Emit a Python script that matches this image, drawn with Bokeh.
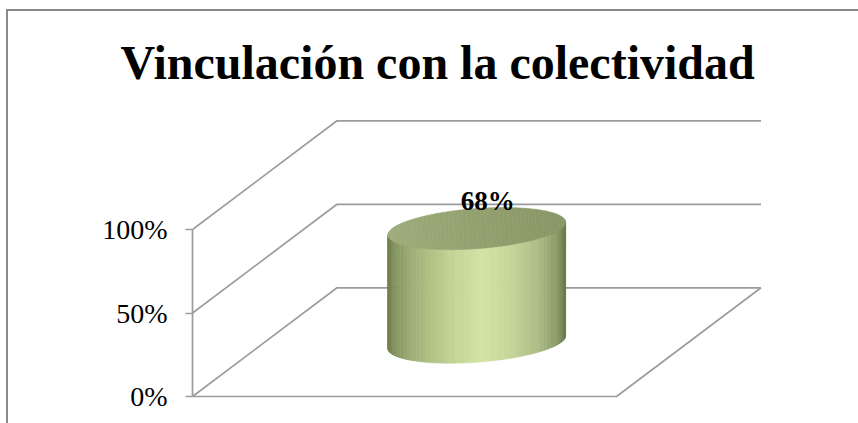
import numpy as np
from bokeh.plotting import figure
from bokeh.models import Range1d, LinearAxis, FixedTicker, NumeralTickFormatter
from bokeh.core.properties import value
from bokeh.embed import file_html
from bokeh.resources import INLINE

# ---------------- data ----------------
TITLE = "Vinculación con la colectividad"
CATEGORIES = ["Vinculación con la colectividad"]
VALUES = [0.68]
Y_TICKS = [0.0, 0.5, 1.0]

# ---------------- layout / style ----------------
W, H = 850, 412
LEFT, TOP = 184, 89
FRAME_W, FRAME_H = W - LEFT, H - TOP
SX = 424.0          # px per category (front plane)
SY = 167.0          # px per 100 %
BELOW_ZERO = 27.0   # px of frame below 0 %
DEPTH_PX = (144.5, 108.7)
DX, DY = DEPTH_PX[0] / SX, DEPTH_PX[1] / SY
BAR_W = 0.42        # cylinder width, fraction of a category
ELL_B = 20.0        # half height of the cylinder ends, px
ELL_ANGLE = np.deg2rad(4.3)
GRID = "#9c9c9c"

y0 = -BELOW_ZERO / SY
p = figure(width=W, height=H,
           x_range=Range1d(0, FRAME_W / SX), y_range=Range1d(y0, y0 + FRAME_H / SY),
           output_backend="svg", toolbar_location=None,
           x_axis_location=None, y_axis_location=None,
           min_border_left=LEFT, min_border_top=TOP, min_border_right=0, min_border_bottom=0,
           margin=(11, 0, 0, 8), styles={"outline": "2px solid #8a8a8a"})
p.grid.visible = False
p.outline_line_color = None
p.background_fill_color = "white"
p.border_fill_color = "white"

p.title.text = TITLE
p.title.text_font = "Liberation Serif"
p.title.text_font_style = "bold"
p.title.text_font_size = "48px"
p.title.text_color = "black"
p.title.align = "left"
p.title.offset = -72
p.title.standoff = 23

ax = LinearAxis(ticker=FixedTicker(ticks=Y_TICKS), formatter=NumeralTickFormatter(format="0%"),
                bounds=(0, 1), axis_line_color=GRID, axis_line_width=1.7,
                major_tick_line_color=GRID, major_tick_line_width=1.7,
                major_tick_in=0, major_tick_out=7, minor_tick_line_color=None,
                major_label_standoff=18, major_label_text_font="Liberation Serif",
                major_label_text_font_size="28px", major_label_text_color="black")
p.add_layout(ax, "left")

# back-wall gridlines + floor
xs, ys = [], []
for t in Y_TICKS:
    xs.append([0, DX, len(CATEGORIES) + DX])
    ys.append([t, t + DY, t + DY])
xs.append([0, len(CATEGORIES), len(CATEGORIES) + DX])
ys.append([0, 0, DY])
p.multi_line(xs, ys, line_color=GRID, line_width=1.7)


def hex2rgb(h):
    return np.array([int(h[i:i + 2], 16) for i in (1, 3, 5)], float)


def grad(stops, f):
    fs = [s[0] for s in stops]
    cs = np.array([hex2rgb(s[1]) for s in stops])
    rgb = [np.interp(f, fs, cs[:, k]) for k in range(3)]
    return "#%02x%02x%02x" % tuple(int(round(c)) for c in rgb)


BODY = [(0.0, "#6f7f4d"), (0.04, "#84945e"), (0.15, "#a2b37a"), (0.35, "#c2d394"),
        (0.52, "#d2e3a5"), (0.70, "#c3d497"), (0.85, "#a9ba84"), (0.95, "#889865"), (1.0, "#6b7a4d")]
TOPC = [(0.0, "#9eab7b"), (0.5, "#93a06f"), (1.0, "#889564")]

a_px = BAR_W * SX / 2
u = np.array([np.cos(ELL_ANGLE), np.sin(ELL_ANGLE)])
v = np.array([-np.sin(ELL_ANGLE), np.cos(ELL_ANGLE)])


def ell(cx, cy, th):
    ox = a_px * np.cos(th) * u[0] + ELL_B * np.sin(th) * v[0]
    oy = a_px * np.cos(th) * u[1] + ELL_B * np.sin(th) * v[1]
    return cx + ox / SX, cy + oy / SY


pxs, pys, pcols = [], [], []
lab_x, lab_y, lab_t = [], [], []
for i, (cat, val) in enumerate(zip(CATEGORIES, VALUES)):
    cx = i + 0.5 + 0.5 * DX
    cb = 0.5 * DY
    ct = cb + val
    # body strips
    N = 120
    th = np.linspace(np.pi, 2 * np.pi, N + 1)
    for k in range(N):
        tt = np.linspace(th[k], th[k + 1], 4)
        x1, y1 = ell(cx, ct, tt)
        x2, y2 = ell(cx, cb, tt[::-1])
        pxs.append(list(np.r_[x1, x2]))
        pys.append(list(np.r_[y1, y2]))
        f = (1 + np.cos(0.5 * (th[k] + th[k + 1]))) / 2
        pcols.append(grad(BODY, f))
    # top face strips
    M = 60
    th2 = np.linspace(np.pi, 0, M + 1)
    for k in range(M):
        tt = np.linspace(th2[k], th2[k + 1], 4)
        x1, y1 = ell(cx, ct, tt)
        x2, y2 = ell(cx, ct, -tt[::-1])
        pxs.append(list(np.r_[x1, x2]))
        pys.append(list(np.r_[y1, y2]))
        f = (1 + np.cos(0.5 * (th2[k] + th2[k + 1]))) / 2
        pcols.append(grad(TOPC, f))
    lab_x.append(cx)
    lab_y.append(ct)
    lab_t.append(f"{val:.0%}")

p.patches(pxs, pys, fill_color=pcols, line_color=pcols, line_width=0.6)

p.text(x=lab_x, y=lab_y, text=lab_t, text_align="center", text_baseline="alphabetic",
       x_offset=11, y_offset=-27.7, text_font=value("Liberation Serif"), text_font_style="bold",
       text_font_size="27px", text_color="black")

open("out.html", "w").write(file_html(p, INLINE))
